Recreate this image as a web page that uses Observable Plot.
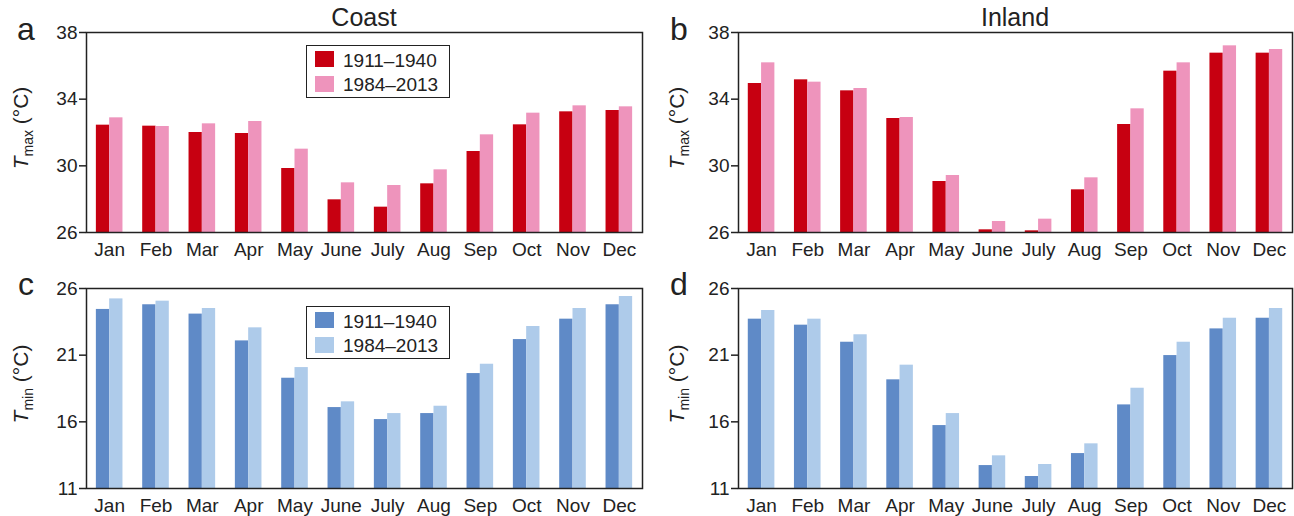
<!DOCTYPE html>
<html><head><meta charset="utf-8">
<script src="https://cdn.jsdelivr.net/npm/d3@7"></script>
<script src="https://cdn.jsdelivr.net/npm/@observablehq/plot@0.6"></script>
<style>
body{margin:0;background:#fff;}
#chart{position:relative;width:1294px;height:516px;font-family:"Liberation Sans",Arial,sans-serif;color:#222;overflow:hidden;}
.panel{position:absolute;}
.legend{position:absolute;box-sizing:border-box;border:1.5px solid #222;background:#fff;width:144px;height:53px;}
.sw{position:absolute;left:8px;width:19px;height:16px;}
.lt{position:absolute;left:36px;font-size:19px;line-height:19px;white-space:nowrap;}
</style>
</head><body>
<div id="chart"></div>
<script>
const months = ["Jan","Feb","Mar","Apr","May","June","July","Aug","Sep","Oct","Nov","Dec"];
const periods = ["1911–1940","1984–2013"];

// Tmax (°C)
const coastTmaxEarly = [32.44,32.38,32.0,31.94,29.84,27.96,27.52,28.92,30.86,32.46,33.24,33.32];
const coastTmaxLate  = [32.88,32.36,32.52,32.66,31.0,28.98,28.82,29.76,31.86,33.16,33.6,33.54];
const inlandTmaxEarly = [34.94,35.16,34.5,32.84,29.06,26.16,26.1,28.56,32.48,35.68,36.76,36.76];
const inlandTmaxLate  = [36.18,35.02,34.64,32.9,29.42,26.66,26.8,29.28,33.42,36.18,37.2,36.98];
// Tmin (°C)
const coastTminEarly = [24.43,24.78,24.08,22.07,19.27,17.07,16.17,16.62,19.62,22.17,23.7,24.78];
const coastTminLate  = [25.22,25.05,24.5,23.05,20.07,17.5,16.62,17.17,20.32,23.15,24.5,25.4];
const inlandTminEarly = [23.7,23.25,21.97,19.15,15.72,12.72,11.9,13.62,17.27,20.97,22.97,23.77];
const inlandTminLate  = [24.35,23.7,22.53,20.25,16.62,13.45,12.8,14.35,18.52,21.97,23.77,24.5];

const tmaxTicks = [26,30,34,38];
const tminTicks = [11,16,21,26];

const redColors = ["#c70011","#ee94bc"];
const blueColors = ["#5f8ac7","#aecbea"];

const chart = document.getElementById("chart");

function makePanel(o){
  const W = 647, H = 258;
  const innerW = W - o.mL - o.mR;
  const step = innerW / months.length;
  const bw = 13.3;
  const early = months.map((m,i)=>({month:m, period:periods[0], value:o.early[i]}));
  const late = months.map((m,i)=>({month:m, period:periods[1], value:o.late[i]}));
  const p = Plot.plot({
    width: W, height: H,
    marginLeft: o.mL, marginRight: o.mR, marginTop: o.mT, marginBottom: o.mB,
    style: {fontSize: "19px", fontFamily: '"Liberation Sans", Arial, sans-serif', color: "#222", background: "transparent", overflow: "visible"},
    x: {type: "band", domain: months, padding: 0, round: false},
    y: {domain: [o.ticks[0], o.ticks[o.ticks.length-1]]},
    marks: [
      Plot.barY(early, {x: "month", y1: o.ticks[0], y2: "value", fill: o.colors[0], insetLeft: step/2 - bw, insetRight: step/2}),
      Plot.barY(late, {x: "month", y1: o.ticks[0], y2: "value", fill: o.colors[1], insetLeft: step/2, insetRight: step/2 - bw}),
      Plot.axisY({ticks: o.ticks, tickSize: 7, tickPadding: 2, label: null, strokeWidth: 1.5}),
      Plot.axisX({tickSize: 0, tickPadding: 10, label: null}),
      Plot.frame({stroke: "#222", strokeWidth: 1.5})
    ]
  });
  const svg = d3.select(p);
  const cy = o.mT + (H - o.mT - o.mB)/2 - 4;
  const t = svg.append("text")
    .attr("transform", `translate(${o.labelX},${cy}) rotate(-90)`)
    .attr("text-anchor","middle").style("font-size","21px").attr("fill","#222");
  t.append("tspan").style("font-style","italic").text("T");
  t.append("tspan").style("font-size","14px").attr("dy",5).text(o.sub);
  t.append("tspan").attr("dy",-5).text(" (°C)");
  svg.append("text").attr("x", o.letterX).attr("y", o.letterY)
    .style("font-size", "32px").attr("fill","#222").text(o.letter);
  if (o.title) {
    svg.append("text").attr("x", o.titleX).attr("y", 26).attr("text-anchor","middle")
      .style("font-size", "25px").attr("fill","#222").text(o.title);
  }
  p.classList.add("panel");
  p.style.left = o.left + "px";
  p.style.top = o.top + "px";
  chart.appendChild(p);
}

function makeLegend(left, top, colors){
  const d = document.createElement("div");
  d.className = "legend";
  d.style.left = left + "px"; d.style.top = top + "px";
  periods.forEach((per, i) => {
    const s = document.createElement("div");
    s.className = "sw"; s.style.top = (5 + i*25) + "px"; s.style.background = colors[i];
    d.appendChild(s);
    const l = document.createElement("div");
    l.className = "lt"; l.style.top = (5 + i*24) + "px"; l.textContent = per;
    d.appendChild(l);
  });
  chart.appendChild(d);
}

makePanel({left:0, top:0, mL:86, mR:5, mT:32, mB:26, early:coastTmaxEarly, late:coastTmaxLate, ticks:tmaxTicks, colors:redColors, sub:"max", labelX:28, letter:"a", letterX:26, letterY:40, title:"Coast", titleX:364});
makePanel({left:647, top:0, mL:91, mR:2, mT:32, mB:26, early:inlandTmaxEarly, late:inlandTmaxLate, ticks:tmaxTicks, colors:redColors, sub:"max", labelX:37, letter:"b", letterX:32, letterY:40, title:"Inland", titleX:368});
makePanel({left:0, top:258, mL:86, mR:5, mT:30, mB:28, early:coastTminEarly, late:coastTminLate, ticks:tminTicks, colors:blueColors, sub:"min", labelX:28, letter:"c", letterX:26, letterY:37});
makePanel({left:647, top:258, mL:91, mR:2, mT:30, mB:28, early:inlandTminEarly, late:inlandTminLate, ticks:tminTicks, colors:blueColors, sub:"min", labelX:37, letter:"d", letterX:32, letterY:37});

makeLegend(306, 45, redColors);
makeLegend(306, 306, blueColors);
</script>
</body></html>
